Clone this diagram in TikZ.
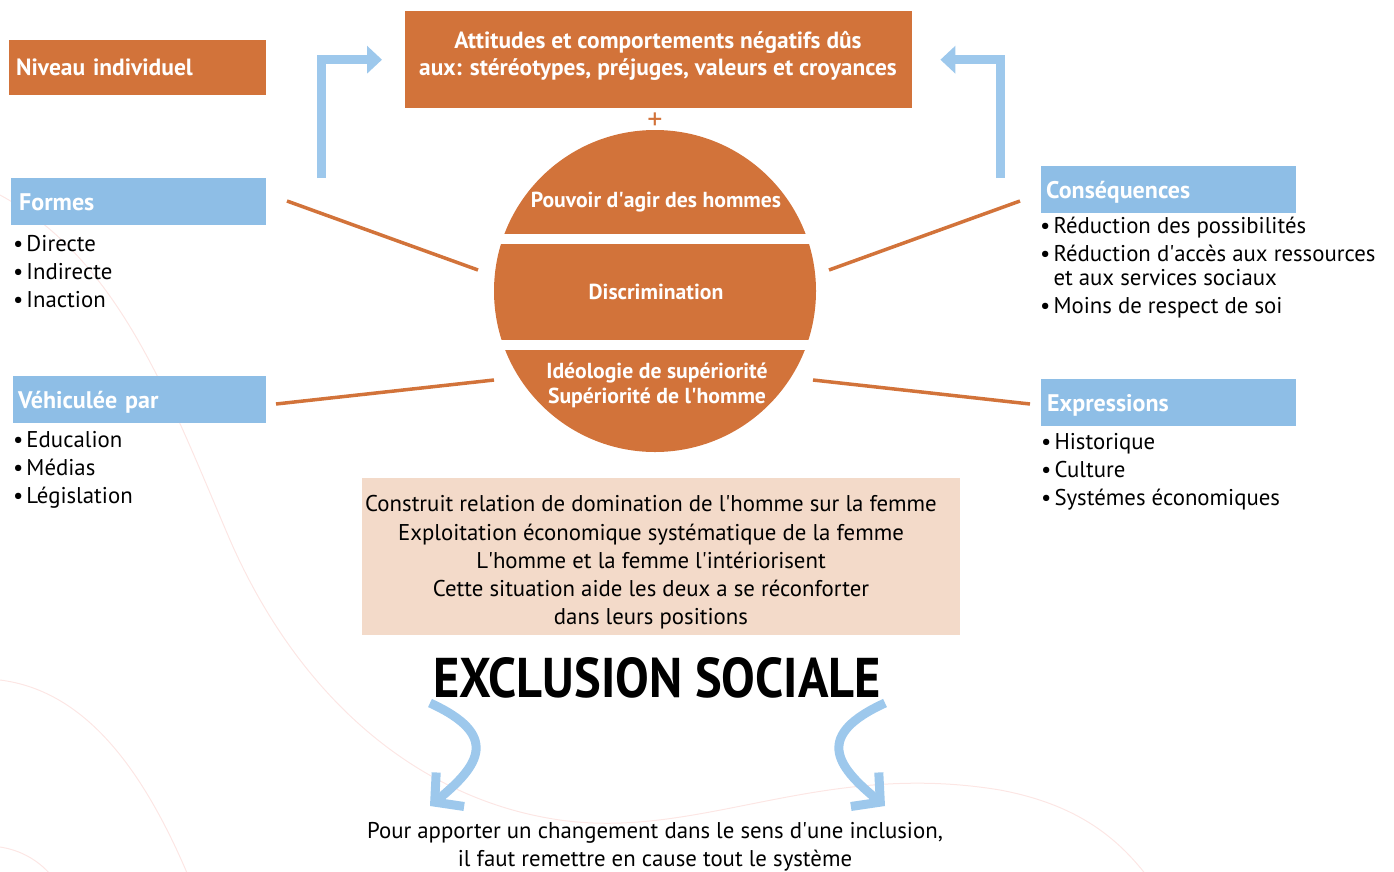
\documentclass[tikz,border=0pt]{standalone}
\usepackage{fontspec}
\setmainfont{PT Sans}
\newfontfamily\condsans{PT Sans}[FakeStretch=0.9]
\usetikzlibrary{arrows.meta}
\definecolor{orng}{HTML}{D2733A}
\definecolor{hblue}{HTML}{8EBEE6}
\definecolor{ablue}{HTML}{9DC8EC}
\definecolor{peach}{HTML}{F3DAC9}
\definecolor{faint}{HTML}{FCE6E4}
\newcommand{\ap}{\textquotesingle}
\newcommand{\bul}{•\kern3pt}

\begin{document}
\begin{tikzpicture}[x=1pt,y=-1pt,
  obox/.style={fill=orng,inner sep=0pt,anchor=north west},
  bbox/.style={fill=hblue,text=white,anchor=north west,align=left,
    font=\bfseries\fontsize{24}{26}\selectfont,inner ysep=0pt,minimum height=47pt,
    text height=17pt,text depth=0pt},
  blist/.style={anchor=north west,inner sep=0pt,align=left,
    font=\fontsize{22.8}{28}\selectfont},
  ctext/.style={text=white,font=\bfseries\fontsize{21.7}{25}\selectfont,align=center},
  oline/.style={draw=orng,line width=3.5pt},
  barrow/.style={draw=ablue,line width=9pt,-{Triangle[length=15pt,width=27pt]}},
  carrow/.style={draw=ablue,line width=9pt,-{Straight Barb[length=20pt,width=44pt]}}]
\useasboundingbox (0,0) rectangle (1394,871);
%% faint curves behind
\draw[faint,line width=1pt] (0,195) .. controls (120,260) and (170,400) .. (230,540)
  .. controls (300,700) and (420,800) .. (560,820) .. controls (700,840) and (820,760) .. (1000,790)
  .. controls (1080,805) and (1120,840) .. (1150,880);
\draw[faint,line width=1pt] (0,680) .. controls (80,690) and (140,760) .. (190,880);
\draw[faint,line width=1pt] (0,847) .. controls (20,850) and (40,860) .. (55,880);
%% top box
\node[obox,minimum width=507pt,minimum height=97pt] (attitudes) at (405,11) {};
\node[ctext,font=\bfseries\fontsize{23.4}{27}\selectfont] (attitudestxt) at (658,56) {Attitudes et comportements négatifs dûs\\aux: stéréotypes, préjuges, valeurs et croyances};
\node[text=orng,font=\fontsize{30}{30}\selectfont] (plus) at (655,121) {+};
%% niveau individuel
\node[obox,text=white,font=\bfseries\fontsize{23.5}{26}\selectfont,align=left,
  minimum height=55pt,inner xsep=7pt,text width=243pt] (niveau) at (9,40) {Niveau individuel};
%% the circle
\node[circle,fill=orng,minimum size=322pt,inner sep=0pt] (circ) at (655,291) {};
\fill[white] (488,234) rectangle (822,244);
\fill[white] (488,340) rectangle (822,350);
\node[ctext] (pouvoir) at (656,202) {Pouvoir d\ap agir des hommes};
\node[ctext] (discr) at (656,292) {Discrimination};
\node[ctext] (ideo) at (657,385.5) {Idéologie de supériorité\\Supériorité de l\ap homme};
%% left boxes
\node[bbox,minimum width=255pt,text width=239pt,inner xsep=8pt] (formes) at (11,178) {Formes};
\node[blist] (formeslist) at (13,231) {\rule{0pt}{20pt}\bul Directe\\\bul Indirecte\\\bul Inaction};
\node[bbox,minimum width=253pt,text width=243pt,inner xsep=5pt] (vehic) at (13,376) {Véhiculée par};
\node[blist] (vehiclist) at (13,427) {\rule{0pt}{20pt}\bul Educalion\\\bul Médias\\\bul Législation};
%% right boxes
\node[bbox,minimum width=255pt,text width=245pt,inner xsep=5pt] (conseq) at (1041,166) {Conséquences};
\node[blist] (conseqlist) at (1040,213) {\rule{0pt}{20pt}\bul Réduction des possibilités\\\bul Réduction d\ap accès aux ressources\\[-4pt]\phantom{\bul}et aux services sociaux\\\bul Moins de respect de soi};
\node[bbox,minimum width=255pt,text width=243pt,inner xsep=6pt] (express) at (1041,379) {Expressions};
\node[blist] (expresslist) at (1041,429) {\rule{0pt}{20pt}\bul Historique\\\bul Culture\\\bul Systémes économiques};
%% spokes
\coordinate (lf1) at (287,201); \coordinate (lf2) at (478,270);
\coordinate (lv1) at (276,404); \coordinate (lv2) at (494,380);
\coordinate (rc1) at (1020,201); \coordinate (rc2) at (829,270);
\coordinate (re1) at (1030,404); \coordinate (re2) at (813,380);
\draw[oline] (lf1) -- (lf2);
\draw[oline] (lv1) -- (lv2);
\draw[oline] (rc1) -- (rc2);
\draw[oline] (re1) -- (re2);
%% elbow arrows
\coordinate (ltail) at (321,178);
\coordinate (rtail) at (1000,178);
\draw[barrow] (ltail) |- ([xshift=-23pt]attitudes.west);
\draw[barrow] (rtail) |- ([xshift=28pt]attitudes.east);
%% peach box
\node[fill=peach,minimum width=598pt,minimum height=157pt,anchor=north west,inner sep=0pt] (construit) at (362,478) {};
\node[font=\fontsize{22.8}{28.25}\selectfont,align=center] (construittxt) at (651,562.5) {Construit relation de domination de l\ap homme sur la femme\\Exploitation économique systématique de la femme\\L\ap homme et la femme l\ap intériorisent\\Cette situation aide les deux a se réconforter\\dans leurs positions};
%% exclusion
\node[font=\condsans\bfseries\fontsize{56}{60}\selectfont] (exclusion) at (657,678) {EXCLUSION SOCIALE};
%% curved arrows
\coordinate (lcs) at (430,703); \coordinate (lce) at (430,806);
\coordinate (rcs) at (885,703); \coordinate (rce) at (885,806);
\draw[carrow] (lcs) .. controls (500,735) and (480,765) .. (lce);
\draw[carrow] (rcs) .. controls (815,735) and (835,765) .. (rce);
%% bottom text
\node[font=\fontsize{22.8}{28}\selectfont,align=center] (changement) at (655,847) {Pour apporter un changement dans le sens d\ap une inclusion,\\il faut remettre en cause tout le système};
\end{tikzpicture}
\end{document}
